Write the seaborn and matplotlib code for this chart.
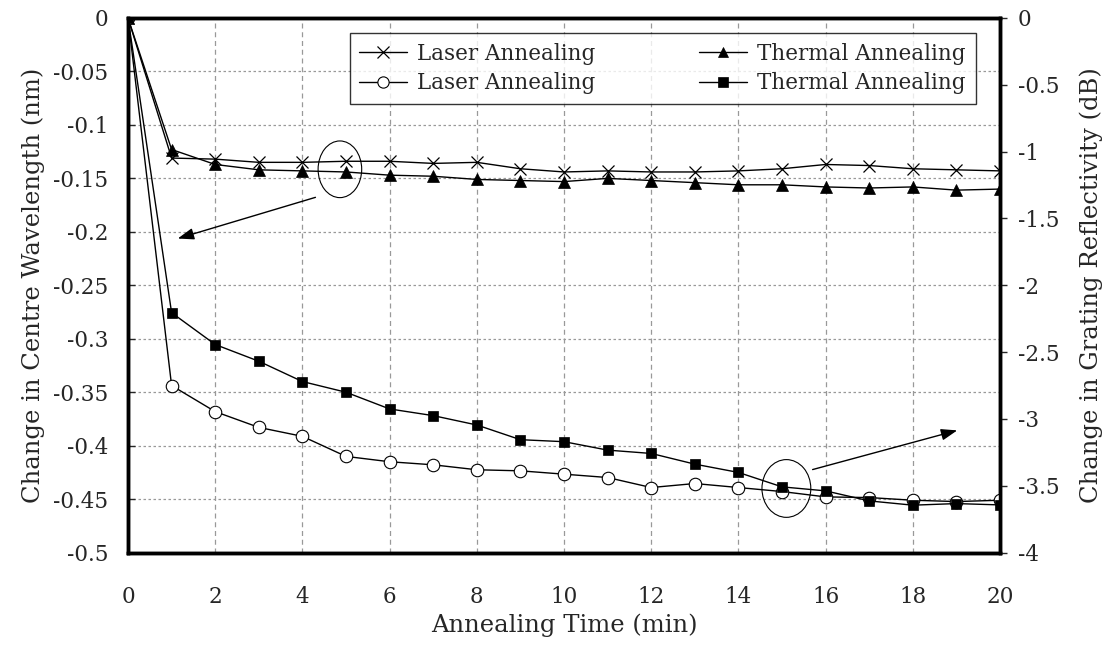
import pandas as pd
import matplotlib.pyplot as plt
import seaborn as sns
import numpy as np
from matplotlib.patches import Ellipse

# annealing time (min)
t = list(range(0, 21))

# centre wavelength change (nm) - left axis
laser_wl = [0, -0.131, -0.132, -0.135, -0.135, -0.134, -0.134, -0.136, -0.135, -0.141, -0.144,
            -0.143, -0.144, -0.144, -0.143, -0.141, -0.137, -0.138, -0.141, -0.142, -0.143]
thermal_wl = [0, -0.123, -0.137, -0.142, -0.143, -0.144, -0.147, -0.148, -0.151, -0.152, -0.153,
              -0.150, -0.152, -0.154, -0.156, -0.156, -0.158, -0.159, -0.158, -0.161, -0.160]

# grating reflectivity change (dB) - right axis
laser_db = [0, -2.75, -2.945, -3.063, -3.13, -3.28, -3.32, -3.343, -3.38, -3.388, -3.413,
            -3.438, -3.513, -3.483, -3.513, -3.543, -3.583, -3.588, -3.608, -3.618, -3.608]
thermal_db = [0, -2.205, -2.443, -2.568, -2.72, -2.80, -2.925, -2.975, -3.045, -3.155, -3.17,
              -3.233, -3.258, -3.338, -3.40, -3.508, -3.538, -3.613, -3.645, -3.633, -3.643]

left_ticks = ['-0.5', '-0.45', '-0.4', '-0.35', '-0.3', '-0.25', '-0.2', '-0.15', '-0.1', '-0.05', '0']
right_ticks = ['-4', '-3.5', '-3', '-2.5', '-2', '-1.5', '-1', '-0.5', '0']

sns.set_style("white")
plt.rcParams['font.family'] = ['DejaVu Serif']
plt.rcParams['axes.unicode_minus'] = False
plt.rcParams['font.size'] = 15.5

fig = plt.figure(figsize=(11.13, 6.54), dpi=100)
ax = fig.add_axes([0.115, 0.155, 0.7835, 0.8175])
ax2 = ax.twinx()

sns.lineplot(x=t, y=laser_wl, ax=ax, color='black', lw=1, marker='x', ms=9,
             mec='black', mew=0.9, label='Laser Annealing')
sns.lineplot(x=t, y=thermal_wl, ax=ax, color='black', lw=1, marker='^', ms=8.5,
             mec='black', mew=0.5, label='Thermal Annealing')
sns.lineplot(x=t, y=laser_db, ax=ax2, color='black', lw=1, marker='o', ms=9, mfc='white',
             mec='black', mew=0.8, label='Laser Annealing')
sns.lineplot(x=t, y=thermal_db, ax=ax2, color='black', lw=1, marker='s', ms=7.5,
             mec='black', mew=0.5, label='Thermal Annealing')

ax.set_xlim(0, 20)
ax.set_ylim(-0.5, 0)
ax2.set_ylim(-4, 0)
ax.set_xticks(range(0, 21, 2))
ax.set_yticks(np.linspace(-0.5, 0, 11))
ax.set_yticklabels(left_ticks)
ax2.set_yticks(np.linspace(-4, 0, 9))
ax2.set_yticklabels(right_ticks)

ax.xaxis.grid(True, color='#999999', ls=(0, (4, 3)), lw=0.9)
ax.yaxis.grid(True, color='#999999', ls=(0, (2, 2)), lw=0.9)
ax.set_axisbelow(True)
ax.tick_params(axis='y', direction='in', length=5, width=1, pad=14)
ax.tick_params(axis='x', length=0, pad=24)
ax2.tick_params(axis='y', direction='out', length=5, width=1, pad=8)
for a in (ax, ax2):
    for s in a.spines.values():
        s.set_linewidth(2.5)
        s.set_color('black')

ax.set_xlabel('Annealing Time (min)', fontsize=17.5, labelpad=4)
ax.set_ylabel('Change in Centre Wavelength (nm)', fontsize=17.5, labelpad=6)
ax2.set_ylabel('Change in Grating Reflectivity (dB)', fontsize=17.5, labelpad=14)

# ellipses and arrows pointing at the relevant axis
ax.add_patch(Ellipse((4.86, -0.1415), 1.0, 0.053, fill=False, color='black', lw=0.8))
ax.annotate('', xy=(1.08, -0.207), xytext=(4.36, -0.167),
            arrowprops=dict(arrowstyle='-|>,head_width=0.25,head_length=0.7', color='black', lw=1, mutation_scale=14))
ax.add_patch(Ellipse((15.1, -0.44), 1.12, 0.054, fill=False, color='black', lw=0.8))
ax.annotate('', xy=(19.08, -0.385), xytext=(15.64, -0.423),
            arrowprops=dict(arrowstyle='-|>,head_width=0.25,head_length=0.7', color='black', lw=1, mutation_scale=14))

h1, l1 = ax.get_legend_handles_labels()
h2, l2 = ax2.get_legend_handles_labels()
ax.get_legend().remove()
ax2.get_legend().remove()
handles = [h1[0], h2[0], h1[1], h2[1]]
labels = [l1[0], l2[0], l1[1], l2[1]]
leg = ax2.legend(handles, labels, ncol=2, loc='upper right', bbox_to_anchor=(0.972, 0.972),
                 borderaxespad=0, frameon=True, fancybox=False, edgecolor='black', fontsize=15.5,
                 handlelength=2.2, handletextpad=0.5, columnspacing=4.8,
                 borderpad=0.45, labelspacing=0.35, markerscale=0.9)
leg.get_frame().set_linewidth(1)

fig.savefig('out.png', dpi=100)
